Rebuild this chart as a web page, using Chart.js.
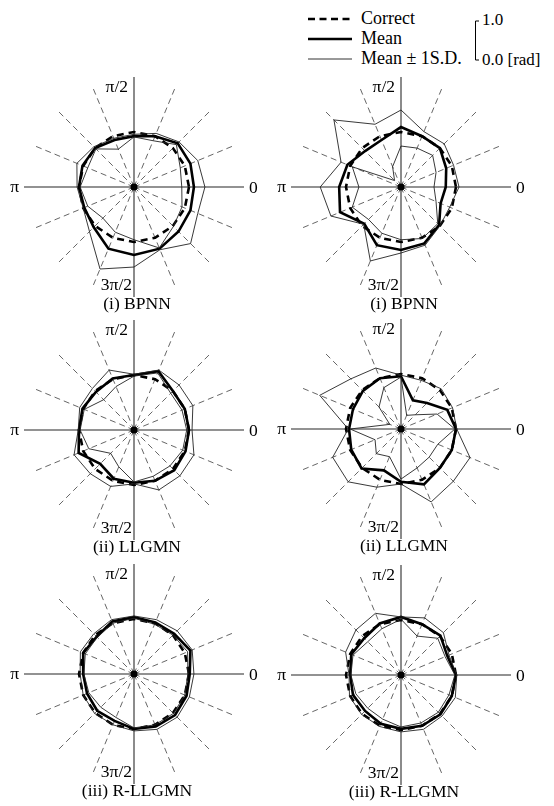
<!DOCTYPE html>
<html>
<head>
<meta charset="utf-8">
<script src="https://cdn.jsdelivr.net/npm/chart.js@4.4.0/dist/chart.umd.min.js"></script>
<style>
  body { margin: 0; width: 554px; height: 806px; background: #fff; position: relative; overflow: hidden;
         font-family: "Liberation Serif", "DejaVu Serif", serif; color: #000; }
  canvas.panel { position: absolute; }
  .title { position: absolute; width: 200px; text-align: center; font-size: 17.5px; line-height: 18px; }
  #legend { position: absolute; left: 0; top: 0; }
</style>
</head>
<body>

<svg id="legend" width="554" height="75">
  <line x1="308" y1="19" x2="352" y2="19" stroke="#000" stroke-width="2.6" stroke-dasharray="7,4.5"/>
  <line x1="308" y1="39" x2="352" y2="39" stroke="#000" stroke-width="2.6"/>
  <line x1="308" y1="59" x2="352" y2="59" stroke="#333" stroke-width="1"/>
  <text x="361" y="24" font-family="Liberation Serif" font-size="18">Correct</text>
  <text x="361" y="44" font-family="Liberation Serif" font-size="18">Mean</text>
  <text x="361" y="64" font-family="Liberation Serif" font-size="18">Mean ± 1S.D.</text>
  <path d="M479 21 H475.5 V60 H479" fill="none" stroke="#000" stroke-width="1"/>
  <text x="482" y="25" font-family="Liberation Serif" font-size="17">1.0</text>
  <text x="482" y="65" font-family="Liberation Serif" font-size="17">0.0 [rad]</text>
</svg>

<canvas class="panel" id="p1" width="270" height="250" style="left:-1px;top:62px"></canvas>
<canvas class="panel" id="p2" width="270" height="250" style="left:266px;top:62px"></canvas>
<canvas class="panel" id="p3" width="270" height="250" style="left:-1px;top:305px"></canvas>
<canvas class="panel" id="p4" width="270" height="250" style="left:266px;top:304px"></canvas>
<canvas class="panel" id="p5" width="270" height="250" style="left:-1px;top:549px"></canvas>
<canvas class="panel" id="p6" width="270" height="250" style="left:266px;top:550px"></canvas>

<div class="title" style="left:37px;top:294px">(i) BPNN</div>
<div class="title" style="left:304px;top:294px">(i) BPNN</div>
<div class="title" style="left:37px;top:537px">(ii) LLGMN</div>
<div class="title" style="left:304px;top:536px">(ii) LLGMN</div>
<div class="title" style="left:37px;top:781px">(iii) R-LLGMN</div>
<div class="title" style="left:304px;top:782px">(iii) R-LLGMN</div>

<script>
// directions in degrees, counter-clockwise from 0
const directions = ['0', '22.5', '45', '67.5', '90', '112.5', '135', '157.5',
                    '180', '202.5', '225', '247.5', '270', '292.5', '315', '337.5'];
const axisLabels = ['0', 'π/2', 'π', '3π/2'];

// correct answer [rad], same in every panel
const correct = [1.45, 1.45, 1.45, 1.45, 1.45, 1.45, 1.45, 1.45,
                 1.45, 1.45, 1.45, 1.45, 1.45, 1.45, 1.45, 1.45];

// (i) BPNN, left column
const bpnnMeanL  = [1.58, 1.61, 1.63, 1.45, 1.34, 1.34, 1.45, 1.47, 1.45, 1.42, 1.50, 1.76, 1.79, 1.76, 1.66, 1.61];
const bpnnUpperL = [1.87, 1.82, 1.68, 1.53, 1.39, 1.39, 1.50, 1.63, 1.50, 1.45, 1.66, 2.34, 2.11, 1.79, 2.11, 1.82];
const bpnnLowerL = [1.26, 1.32, 1.58, 1.32, 1.32, 1.08, 1.42, 1.32, 1.42, 1.32, 1.16, 1.29, 1.39, 1.74, 1.47, 1.37];
// (i) BPNN, right column
const bpnnMeanR  = [1.18, 1.29, 1.45, 1.45, 1.58, 1.34, 1.34, 1.53, 1.63, 1.74, 1.37, 1.66, 1.66, 1.61, 1.42, 1.13];
const bpnnUpperR = [1.53, 1.50, 1.61, 1.58, 2.03, 1.79, 2.50, 1.71, 2.13, 2.00, 1.39, 2.11, 1.74, 1.66, 1.45, 1.39];
const bpnnLowerR = [0.87, 1.00, 1.18, 1.11, 1.08, 0.58, 0.24, 1.39, 1.11, 1.39, 1.21, 1.32, 1.39, 1.47, 1.37, 1.00];

// (ii) LLGMN
const llgmnMeanL  = [1.45, 1.45, 1.45, 1.68, 1.45, 1.47, 1.42, 1.47, 1.45, 1.58, 1.26, 1.39, 1.39, 1.45, 1.50, 1.47];
const llgmnUpperL = [1.53, 1.68, 1.68, 1.71, 1.47, 1.71, 1.55, 1.55, 1.47, 1.71, 1.63, 1.61, 1.42, 1.71, 1.71, 1.71];
const llgmnLowerL = [1.39, 1.37, 1.37, 1.63, 1.42, 1.24, 1.13, 1.42, 1.42, 1.29, 0.87, 1.05, 1.37, 1.32, 1.34, 1.39];
const llgmnMeanR  = [1.45, 1.32, 0.97, 0.82, 1.39, 1.45, 1.42, 1.37, 1.37, 1.42, 1.47, 1.18, 1.39, 1.58, 1.45, 1.45];
const llgmnUpperR = [1.47, 1.47, 1.50, 1.39, 1.42, 1.74, 1.87, 2.32, 1.39, 1.95, 1.97, 1.66, 1.45, 2.08, 1.95, 1.97];
const llgmnLowerR = [1.42, 1.03, 0.53, 0.39, 1.37, 1.18, 0.82, 0.32, 1.34, 0.74, 0.92, 0.79, 1.32, 1.11, 1.05, 1.05];

// (iii) R-LLGMN
const rllgmnMeanL  = [1.47, 1.61, 1.50, 1.47, 1.50, 1.50, 1.39, 1.45, 1.34, 1.34, 1.37, 1.34, 1.45, 1.50, 1.53, 1.50];
const rllgmnUpperL = [1.58, 1.66, 1.61, 1.55, 1.53, 1.55, 1.50, 1.53, 1.42, 1.45, 1.47, 1.45, 1.50, 1.58, 1.61, 1.58];
const rllgmnLowerL = [1.42, 1.53, 1.45, 1.42, 1.47, 1.45, 1.37, 1.39, 1.32, 1.29, 1.24, 1.24, 1.42, 1.45, 1.47, 1.45];
const rllgmnMeanR  = [1.45, 1.32, 1.47, 1.45, 1.53, 1.47, 1.37, 1.42, 1.34, 1.37, 1.34, 1.39, 1.42, 1.45, 1.47, 1.45];
const rllgmnUpperR = [1.47, 1.37, 1.58, 1.63, 1.53, 1.76, 1.68, 1.58, 1.37, 1.47, 1.47, 1.47, 1.50, 1.55, 1.53, 1.55];
const rllgmnLowerR = [1.42, 1.26, 1.37, 1.11, 1.47, 1.32, 1.24, 1.37, 1.32, 1.29, 1.24, 1.26, 1.37, 1.37, 1.39, 1.37];

// radar scale goes clockwise, the figure goes counter-clockwise
function idx(k) { return (16 - k) % 16; }
function toChartOrder(values) { return values.map((v, j) => values[idx(j)]); }

const axisLabelPlugin = {
  id: 'axisLabels',
  afterDraw(chart) {
    const r = chart.scales.r;
    const ctx = chart.ctx;
    ctx.save();
    ctx.fillStyle = '#000';
    ctx.font = '17.5px "Liberation Serif", serif';
    ctx.textBaseline = 'middle';
    let p = r.getPointPosition(idx(0), r.drawingArea + 5);
    ctx.textAlign = 'left';
    ctx.fillText(axisLabels[0], p.x, p.y + 1);
    p = r.getPointPosition(idx(4), r.drawingArea - 10);
    ctx.textAlign = 'right';
    ctx.fillText(axisLabels[1], p.x - 6, p.y);
    p = r.getPointPosition(idx(8), r.drawingArea + 5);
    ctx.fillText(axisLabels[2], p.x, p.y);
    p = r.getPointPosition(idx(12), r.drawingArea - 12);
    ctx.fillText(axisLabels[3], p.x - 2, p.y);
    // centre dot
    ctx.beginPath();
    ctx.arc(r.xCenter, r.yCenter, 3.5, 0, Math.PI * 2);
    ctx.fill();
    ctx.restore();
  }
};

function drawPanel(id, mean, upper, lower) {
  const ctx = document.getElementById(id).getContext('2d');
  return new Chart(ctx, {
    type: 'radar',
    data: {
      labels: toChartOrder(directions),
      datasets: [
        { label: 'Mean+1S.D.', data: toChartOrder(upper), borderColor: '#222', borderWidth: 0.9 },
        { label: 'Mean-1S.D.', data: toChartOrder(lower), borderColor: '#222', borderWidth: 0.9 },
        { label: 'Correct', data: toChartOrder(correct), borderColor: '#000', borderWidth: 2.6, borderDash: [7, 5] },
        { label: 'Mean', data: toChartOrder(mean), borderColor: '#000', borderWidth: 2.6 }
      ]
    },
    options: {
      responsive: false,
      devicePixelRatio: 1,
      animation: false,
      layout: { padding: { left: 25, right: 25, top: 15, bottom: 15 } },
      elements: {
        line: { tension: 0, fill: false, borderJoinStyle: 'miter' },
        point: { radius: 0, hoverRadius: 0 }
      },
      plugins: { legend: { display: false }, tooltip: { enabled: false } },
      scales: {
        r: {
          min: 0,
          max: 2.9,
          startAngle: 90,
          grid: { display: false },
          ticks: { display: false },
          pointLabels: { display: false },
          angleLines: {
            display: true,
            color: ctx => (idx(ctx.index) % 4 === 0 ? '#6e6e6e' : '#555'),
            lineWidth: ctx => (idx(ctx.index) % 4 === 0 ? 1.6 : 0.9),
            borderDash: ctx => (idx(ctx.index) % 4 === 0 ? [] : [6, 4])
          }
        }
      }
    },
    plugins: [axisLabelPlugin]
  });
}

drawPanel('p1', bpnnMeanL, bpnnUpperL, bpnnLowerL);
drawPanel('p2', bpnnMeanR, bpnnUpperR, bpnnLowerR);
drawPanel('p3', llgmnMeanL, llgmnUpperL, llgmnLowerL);
drawPanel('p4', llgmnMeanR, llgmnUpperR, llgmnLowerR);
drawPanel('p5', rllgmnMeanL, rllgmnUpperL, rllgmnLowerL);
drawPanel('p6', rllgmnMeanR, rllgmnUpperR, rllgmnLowerR);
</script>
</body>
</html>
